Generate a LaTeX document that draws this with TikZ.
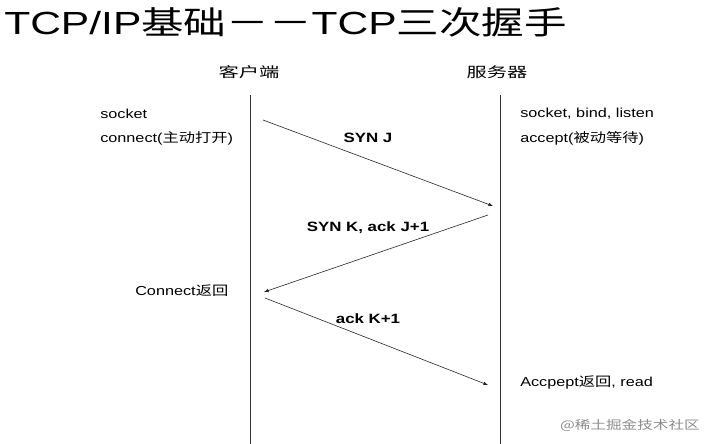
\documentclass[tikz,border=0pt]{standalone}
\usepackage{fontspec}
\setmainfont{Liberation Sans}
\newfontfamily\cjk{Noto Sans CJK SC}
\usetikzlibrary{positioning}

\begin{document}
\begin{tikzpicture}[x=1pt, y=-1pt]
    \tikzset{
        wide/.style={xscale=#1, transform shape},
        lbl/.style={anchor=west, inner sep=0pt, wide=1.25, font=\fontsize{13}{15}\selectfont},
        msg/.style={inner sep=0pt, wide=1.25, font=\fontsize{13.5}{15}\selectfont\bfseries},
        head/.style={inner sep=0pt, wide=1.45, font=\cjk\fontsize{14}{16}\selectfont},
        life/.style={draw=black!80, line width=0.6pt},
        hand/.style={draw=black!85, line width=0.6pt, -latex}
    }
    \useasboundingbox (0,0) rectangle (707,444);

    \node[anchor=west, inner sep=0pt, wide=1.33, font=\fontsize{32}{34}\selectfont] (title) at (4,22) {TCP/IP{\cjk 基础－－}TCP{\cjk 三次握手}};

    \node[head] (client) at (249,72) {客户端};
    \node[head] (server) at (497,72) {服务器};

    \coordinate (ctop) at (250,95);
    \coordinate (cbot) at (250,444);
    \coordinate (stop) at (500,95);
    \coordinate (sbot) at (500,444);
    \draw[life] (ctop) -- (cbot);
    \draw[life] (stop) -- (sbot);

    \node[lbl] (csock) at (100,114) {socket};
    \node[lbl] (cconn) at (100,138) {connect({\cjk 主动打开})};
    \node[lbl] (cret) at (135,291) {Connect{\cjk 返回}};

    \node[lbl] (ssock) at (520,114) {socket, bind, listen};
    \node[lbl] (sacc) at (520,138) {accept({\cjk 被动等待})};
    \node[lbl] (sret) at (520,382) {Accpept{\cjk 返回}, read};

    \coordinate (a1) at (263,120);
    \coordinate (b1) at (493,206);
    \coordinate (b2) at (488,215);
    \coordinate (a2) at (264,292);
    \coordinate (a3) at (265,298);
    \coordinate (b3) at (488,385);
    \draw[hand] (a1) -- (b1);
    \draw[hand] (b2) -- (a2);
    \draw[hand] (a3) -- (b3);

    \node[msg] (syn) at (368,138) {SYN J};
    \node[msg] (synack) at (368,228) {SYN K, ack J+1};
    \node[msg] (ack) at (368,319) {ack K+1};

    \node[anchor=east, inner sep=0pt, text=black!45, wide=1.3, font=\cjk\fontsize{12}{14}\selectfont] (mark) at (700,425) {@稀土掘金技术社区};
\end{tikzpicture}
\end{document}
